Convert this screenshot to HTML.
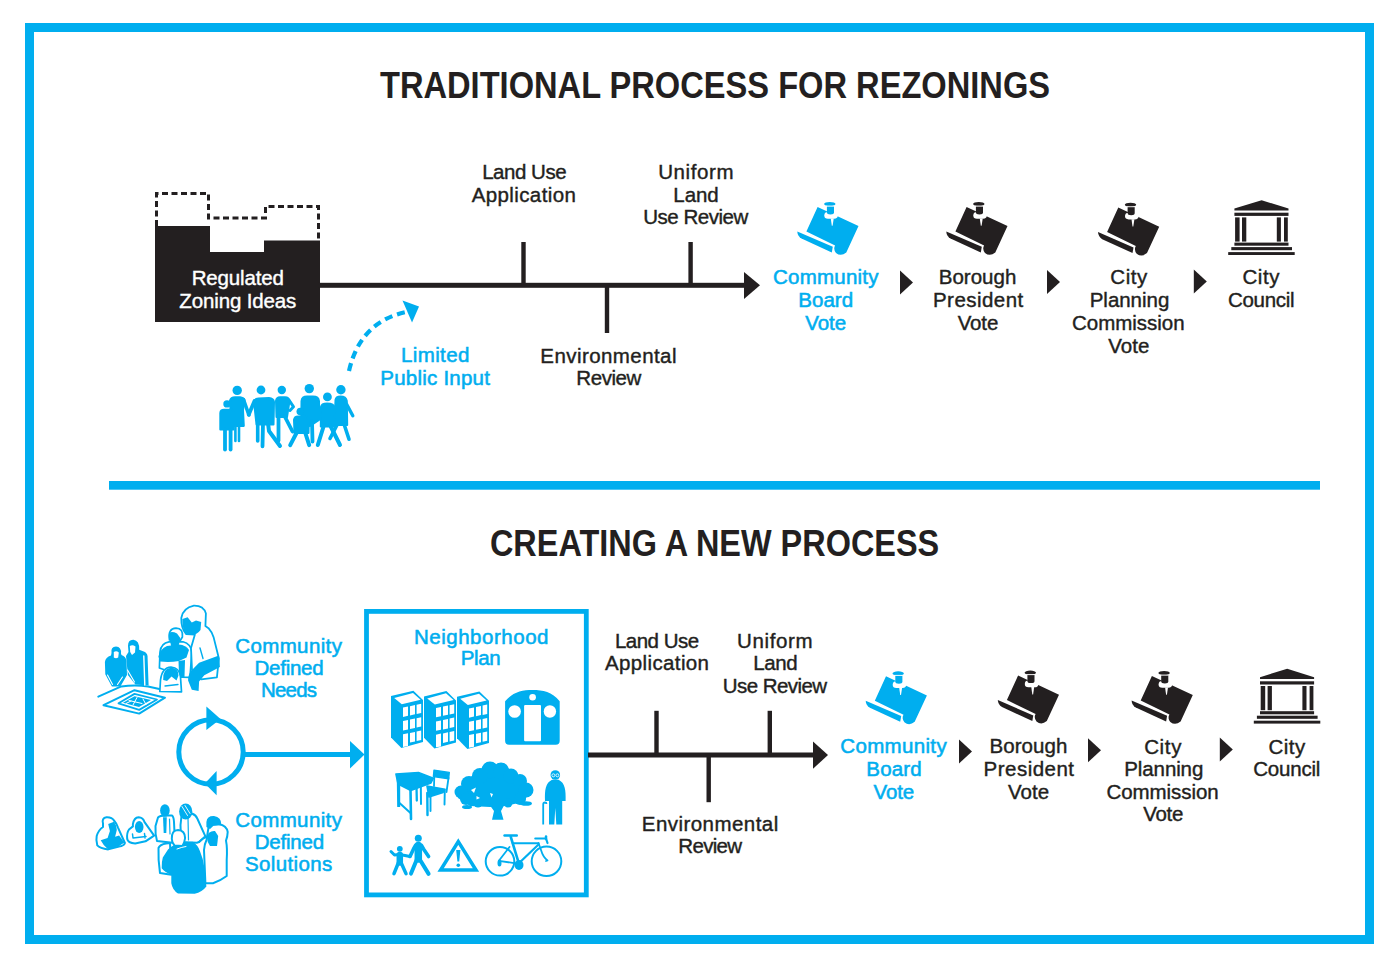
<!DOCTYPE html>
<html><head><meta charset="utf-8">
<style>
html,body{margin:0;padding:0;background:#fff;}
body{width:1400px;height:958px;overflow:hidden;position:relative;}
svg{position:absolute;left:0;top:0;}
text{font-family:"Liberation Sans",sans-serif;}
.t{font-size:20.5px;fill:#231f20;stroke:#231f20;stroke-width:0.4px;text-anchor:middle;}
.t.b{fill:#00aeef;stroke:#00aeef;stroke-width:0.55px;}
.t.w{fill:#fff;stroke:#fff;}
.h{font-size:37px;font-weight:bold;fill:#231f20;text-anchor:middle;}
</style></head>
<body>
<svg width="1400" height="958" viewBox="0 0 1400 958">


<!-- outer border -->
<rect x="29.5" y="27.5" width="1340" height="912" fill="none" stroke="#00aeef" stroke-width="9"/>
<rect x="109" y="481" width="1211" height="8.7" fill="#00aeef"/>

<text class="h" x="715" y="97.6" transform="translate(715 0) scale(0.882 1) translate(-715 0)">TRADITIONAL PROCESS FOR REZONINGS</text>

<path d="M155,226 H210 V252 H264 V240.5 H320 V322 H155 Z" fill="#231f20"/>
<path d="M156.5,226 V193.5 H208.5 V218 H265.5 V206.5 H318.5 V240" fill="none" stroke="#231f20" stroke-width="3" stroke-dasharray="6,3.5"/>

<g fill="#231f20">
<rect x="318" y="282.8" width="428" height="5"/>
<path d="M744,272 L760,285.3 L744,299 Z"/>
<rect x="521.3" y="242" width="4.4" height="43"/>
<rect x="688.4" y="242" width="4.4" height="43"/>
<rect x="604.8" y="285" width="4.4" height="48"/>
</g>

<g transform="translate(791 195)" fill="#00aeef">
    <path d="M26.6,11.9 L67.5,31.1 L55.3,57.4 Q50,62 45,58 Q42,54 44.1,50.4 L15.4,36.4 Z"/>
    <path d="M6.3,36.4 L41.8,51.8 L40.8,57.4 L10.5,43.5 Q6.5,41 6.3,36.4 Z"/>
    <path d="M33.3,20.4 Q33.3,17 37,17 L43.5,17 Q46.9,17.3 46.9,20.3 Q46.9,23.7 43,23.7 L37,23.7 Q33.3,23.7 33.3,20.4 Z" fill="#fff"/>
    <path d="M35.9,11.3 H43 V17.3 Q43,19.5 39.5,19.5 Q35.9,19.5 35.9,17.3 Z"/>
    <ellipse cx="38.8" cy="9.1" rx="5.7" ry="2.1"/>
    <rect x="34.6" y="10.6" width="8.6" height="0.9" fill="#fff"/>
    <path d="M39.8,23.5 L42.7,23.5 L41.6,30.8 L40.8,30.8 Z" fill="#fff"/>
  </g>
<g transform="translate(940 195)" fill="#231f20">
    <path d="M26.6,11.9 L67.5,31.1 L55.3,57.4 Q50,62 45,58 Q42,54 44.1,50.4 L15.4,36.4 Z"/>
    <path d="M6.3,36.4 L41.8,51.8 L40.8,57.4 L10.5,43.5 Q6.5,41 6.3,36.4 Z"/>
    <path d="M33.3,20.4 Q33.3,17 37,17 L43.5,17 Q46.9,17.3 46.9,20.3 Q46.9,23.7 43,23.7 L37,23.7 Q33.3,23.7 33.3,20.4 Z" fill="#fff"/>
    <path d="M35.9,11.3 H43 V17.3 Q43,19.5 39.5,19.5 Q35.9,19.5 35.9,17.3 Z"/>
    <ellipse cx="38.8" cy="9.1" rx="5.7" ry="2.1"/>
    <rect x="34.6" y="10.6" width="8.6" height="0.9" fill="#fff"/>
    <path d="M39.8,23.5 L42.7,23.5 L41.6,30.8 L40.8,30.8 Z" fill="#fff"/>
  </g>
<g transform="translate(1091.7 195.7)" fill="#231f20">
    <path d="M26.6,11.9 L67.5,31.1 L55.3,57.4 Q50,62 45,58 Q42,54 44.1,50.4 L15.4,36.4 Z"/>
    <path d="M6.3,36.4 L41.8,51.8 L40.8,57.4 L10.5,43.5 Q6.5,41 6.3,36.4 Z"/>
    <path d="M33.3,20.4 Q33.3,17 37,17 L43.5,17 Q46.9,17.3 46.9,20.3 Q46.9,23.7 43,23.7 L37,23.7 Q33.3,23.7 33.3,20.4 Z" fill="#fff"/>
    <path d="M35.9,11.3 H43 V17.3 Q43,19.5 39.5,19.5 Q35.9,19.5 35.9,17.3 Z"/>
    <ellipse cx="38.8" cy="9.1" rx="5.7" ry="2.1"/>
    <rect x="34.6" y="10.6" width="8.6" height="0.9" fill="#fff"/>
    <path d="M39.8,23.5 L42.7,23.5 L41.6,30.8 L40.8,30.8 Z" fill="#fff"/>
  </g>
<g transform="translate(1222 194)" fill="#231f20">
    <path d="M12.4,16.5 L12.4,14.6 L39.6,6.2 L66.5,14.6 L66.5,16.5 Z"/>
    <rect x="12.4" y="18.7" width="54.1" height="3.2"/>
    <rect x="13.1" y="23.4" width="4.5" height="24.2"/>
    <rect x="20" y="23.4" width="4.3" height="24.2"/>
    <rect x="54.8" y="23.4" width="4.1" height="24.2"/>
    <rect x="62" y="23.4" width="3.8" height="24.2"/>
    <rect x="12.4" y="48.6" width="54.1" height="3.1"/>
    <rect x="9.3" y="53.1" width="60.7" height="3.1"/>
    <rect x="6.2" y="58.1" width="66.5" height="2.9"/>
  </g>
<g fill="#231f20">
<g transform="translate(900 270.6)"><path d="M0,0 L13,12 L0,24 Z"/></g>
<g transform="translate(1047 270)"><path d="M0,0 L13,12 L0,24 Z"/></g>
<g transform="translate(1193.8 269.4)"><path d="M0,0 L13,12 L0,24 Z"/></g>
</g>

<g id="people" fill="#00aeef"></g>
<path d="M349,371 Q360,322 406,312" fill="none" stroke="#00aeef" stroke-width="4.2" stroke-dasharray="8,5"/>
<path d="M402.5,300.5 L419,306.5 L412,322.5 Z" fill="#00aeef"/>

<text class="h" x="714.6" y="556.2" transform="translate(714.6 0) scale(0.877 1) translate(-714.6 0)">CREATING A NEW PROCESS</text>

<circle cx="211" cy="752" r="32.2" fill="none" stroke="#00aeef" stroke-width="5"/>
<path d="M206.4,706.5 L220.5,719 L206.4,730 Z" fill="#00aeef"/>
<path d="M216.6,771 L204.8,783.5 L216.6,795.3 Z" fill="#00aeef"/>
<rect x="243" y="752" width="108" height="5" fill="#00aeef"/>
<path d="M350,741 L364.5,754.5 L350,768.6 Z" fill="#00aeef"/>

<rect x="366.5" y="611.4" width="219.8" height="283.5" fill="none" stroke="#00aeef" stroke-width="4.8"/>

<g fill="#231f20">
<rect x="588" y="752.5" width="226" height="5"/>
<path d="M813,741.4 L828,755 L813,768.8 Z"/>
<rect x="654.3" y="710.8" width="4.4" height="44"/>
<rect x="767.6" y="710.8" width="4.4" height="44"/>
<rect x="706.5" y="755" width="4.4" height="47.2"/>
</g>

<g transform="translate(859.4 664.3)" fill="#00aeef">
    <path d="M26.6,11.9 L67.5,31.1 L55.3,57.4 Q50,62 45,58 Q42,54 44.1,50.4 L15.4,36.4 Z"/>
    <path d="M6.3,36.4 L41.8,51.8 L40.8,57.4 L10.5,43.5 Q6.5,41 6.3,36.4 Z"/>
    <path d="M33.3,20.4 Q33.3,17 37,17 L43.5,17 Q46.9,17.3 46.9,20.3 Q46.9,23.7 43,23.7 L37,23.7 Q33.3,23.7 33.3,20.4 Z" fill="#fff"/>
    <path d="M35.9,11.3 H43 V17.3 Q43,19.5 39.5,19.5 Q35.9,19.5 35.9,17.3 Z"/>
    <ellipse cx="38.8" cy="9.1" rx="5.7" ry="2.1"/>
    <rect x="34.6" y="10.6" width="8.6" height="0.9" fill="#fff"/>
    <path d="M39.8,23.5 L42.7,23.5 L41.6,30.8 L40.8,30.8 Z" fill="#fff"/>
  </g>
<g transform="translate(991.5 663.6)" fill="#231f20">
    <path d="M26.6,11.9 L67.5,31.1 L55.3,57.4 Q50,62 45,58 Q42,54 44.1,50.4 L15.4,36.4 Z"/>
    <path d="M6.3,36.4 L41.8,51.8 L40.8,57.4 L10.5,43.5 Q6.5,41 6.3,36.4 Z"/>
    <path d="M33.3,20.4 Q33.3,17 37,17 L43.5,17 Q46.9,17.3 46.9,20.3 Q46.9,23.7 43,23.7 L37,23.7 Q33.3,23.7 33.3,20.4 Z" fill="#fff"/>
    <path d="M35.9,11.3 H43 V17.3 Q43,19.5 39.5,19.5 Q35.9,19.5 35.9,17.3 Z"/>
    <ellipse cx="38.8" cy="9.1" rx="5.7" ry="2.1"/>
    <rect x="34.6" y="10.6" width="8.6" height="0.9" fill="#fff"/>
    <path d="M39.8,23.5 L42.7,23.5 L41.6,30.8 L40.8,30.8 Z" fill="#fff"/>
  </g>
<g transform="translate(1125.3 664)" fill="#231f20">
    <path d="M26.6,11.9 L67.5,31.1 L55.3,57.4 Q50,62 45,58 Q42,54 44.1,50.4 L15.4,36.4 Z"/>
    <path d="M6.3,36.4 L41.8,51.8 L40.8,57.4 L10.5,43.5 Q6.5,41 6.3,36.4 Z"/>
    <path d="M33.3,20.4 Q33.3,17 37,17 L43.5,17 Q46.9,17.3 46.9,20.3 Q46.9,23.7 43,23.7 L37,23.7 Q33.3,23.7 33.3,20.4 Z" fill="#fff"/>
    <path d="M35.9,11.3 H43 V17.3 Q43,19.5 39.5,19.5 Q35.9,19.5 35.9,17.3 Z"/>
    <ellipse cx="38.8" cy="9.1" rx="5.7" ry="2.1"/>
    <rect x="34.6" y="10.6" width="8.6" height="0.9" fill="#fff"/>
    <path d="M39.8,23.5 L42.7,23.5 L41.6,30.8 L40.8,30.8 Z" fill="#fff"/>
  </g>
<g transform="translate(1247.6 662.6)" fill="#231f20">
    <path d="M12.4,16.5 L12.4,14.6 L39.6,6.2 L66.5,14.6 L66.5,16.5 Z"/>
    <rect x="12.4" y="18.7" width="54.1" height="3.2"/>
    <rect x="13.1" y="23.4" width="4.5" height="24.2"/>
    <rect x="20" y="23.4" width="4.3" height="24.2"/>
    <rect x="54.8" y="23.4" width="4.1" height="24.2"/>
    <rect x="62" y="23.4" width="3.8" height="24.2"/>
    <rect x="12.4" y="48.6" width="54.1" height="3.1"/>
    <rect x="9.3" y="53.1" width="60.7" height="3.1"/>
    <rect x="6.2" y="58.1" width="66.5" height="2.9"/>
  </g>
<g fill="#231f20">
<g transform="translate(959 739.5)"><path d="M0,0 L13,12 L0,24 Z"/></g>
<g transform="translate(1088 738.3)"><path d="M0,0 L13,12 L0,24 Z"/></g>
<g transform="translate(1219.8 737.5)"><path d="M0,0 L13,12 L0,24 Z"/></g>
</g>

<g fill="#00aeef">
<g transform="translate(388 686)">
  <path d="M3,10 L25.4,4.7 L35,14 L35,56.1 L13.4,62.1 L3,51.4 Z"/>
  <g fill="#fff">
  <path d="M6.2,12 L25,6.9 L32.6,13.7 L13.8,18.2 Z"/>
  <path d="M15,21.6 L20,20.6 L20,29.8 L15,30.9 Z"/>
  <path d="M22,20.2 L27,19.1 L27,28.3 L22,29.4 Z"/>
  <path d="M28.6,18.8 L33.2,17.8 L33.2,27.1 L28.6,28.1 Z"/>
  <path d="M15,35 L20,34 L20,43.4 L15,44.4 Z"/>
  <path d="M22,33.6 L27,32.5 L27,42 L22,43 Z"/>
  <path d="M28.6,32.2 L33.2,31.2 L33.2,40.6 L28.6,41.6 Z"/>
  <path d="M15,48.3 L20,47.2 L20,60 L15,60.9 Z"/>
  <path d="M22,47 L27,45.9 L27,55.4 L22,56.5 Z"/>
  <path d="M28.6,45.6 L33.2,44.6 L33.2,54 L28.6,55 Z"/>
  </g>
</g>
<g transform="translate(421 686.4)">
  <path d="M3,10 L25.4,4.7 L35,14 L35,56.1 L13.4,62.1 L3,51.4 Z"/>
  <g fill="#fff">
  <path d="M6.2,12 L25,6.9 L32.6,13.7 L13.8,18.2 Z"/>
  <path d="M15,21.6 L20,20.6 L20,29.8 L15,30.9 Z"/>
  <path d="M22,20.2 L27,19.1 L27,28.3 L22,29.4 Z"/>
  <path d="M28.6,18.8 L33.2,17.8 L33.2,27.1 L28.6,28.1 Z"/>
  <path d="M15,35 L20,34 L20,43.4 L15,44.4 Z"/>
  <path d="M22,33.6 L27,32.5 L27,42 L22,43 Z"/>
  <path d="M28.6,32.2 L33.2,31.2 L33.2,40.6 L28.6,41.6 Z"/>
  <path d="M15,48.3 L20,47.2 L20,60 L15,60.9 Z"/>
  <path d="M22,47 L27,45.9 L27,55.4 L22,56.5 Z"/>
  <path d="M28.6,45.6 L33.2,44.6 L33.2,54 L28.6,55 Z"/>
  </g>
</g>
<g transform="translate(454 686.8)">
  <path d="M3,10 L25.4,4.7 L35,14 L35,56.1 L13.4,62.1 L3,51.4 Z"/>
  <g fill="#fff">
  <path d="M6.2,12 L25,6.9 L32.6,13.7 L13.8,18.2 Z"/>
  <path d="M15,21.6 L20,20.6 L20,29.8 L15,30.9 Z"/>
  <path d="M22,20.2 L27,19.1 L27,28.3 L22,29.4 Z"/>
  <path d="M28.6,18.8 L33.2,17.8 L33.2,27.1 L28.6,28.1 Z"/>
  <path d="M15,35 L20,34 L20,43.4 L15,44.4 Z"/>
  <path d="M22,33.6 L27,32.5 L27,42 L22,43 Z"/>
  <path d="M28.6,32.2 L33.2,31.2 L33.2,40.6 L28.6,41.6 Z"/>
  <path d="M15,48.3 L20,47.2 L20,60 L15,60.9 Z"/>
  <path d="M22,47 L27,45.9 L27,55.4 L22,56.5 Z"/>
  <path d="M28.6,45.6 L33.2,44.6 L33.2,54 L28.6,55 Z"/>
  </g>
</g>
<!-- train -->
<path d="M505.1,744.7 V701.3 C513,692 522,690.1 532.5,690.1 C543,690.1 552,692 559.7,701.3 V740.7 Q559.7,744.7 555.7,744.7 H509.1 Q505.1,744.7 505.1,740.7 Z"/>
</g>
<g fill="#fff">
<circle cx="532.6" cy="697.2" r="3.3"/>
<circle cx="514.6" cy="711.5" r="6.3"/>
<circle cx="549.9" cy="711.5" r="6.2"/>
<rect x="524.1" y="705" width="16.9" height="36.3" rx="1"/>
</g>
<!-- desk & chair -->
<g fill="#00aeef" stroke="#00aeef" stroke-linecap="round" stroke-linejoin="round">
<path d="M395.9,774 L418.5,772.4 L433.4,778.2 L431,783 L410.8,790.5 L398,784 Z" stroke-width="1.5"/>
<path d="M397.3,775 L399.6,775 L399.6,806.5 L397.8,806.5 Z" stroke-width="1.2"/>
<path d="M410.5,790 L411,819" stroke-width="2.6" fill="none"/>
<path d="M399.5,803 L410.5,813" stroke-width="2" fill="none"/>
<path d="M416.5,786 L416.8,800.5" stroke-width="2.3" fill="none"/>
<path d="M420.8,783.5 L421,804" stroke-width="2" fill="none"/>
<path d="M434,770.1 L449.3,772.4 L448.6,778.8 L433.4,776.6 Z" stroke-width="1.4"/>
<path d="M427,786 L445,789.2 L443.1,792.4 L429,797 Z" stroke-width="1.6"/>
<path d="M434.3,776 L434,786" stroke-width="1.8" fill="none"/>
<path d="M448.5,778 L446.5,792" stroke-width="1.8" fill="none"/>
<path d="M427.3,793 L427.5,815" stroke-width="2.4" fill="none"/>
<path d="M430.5,797 L430.5,811" stroke-width="1.9" fill="none"/>
<path d="M444.8,790 L444.5,804.5" stroke-width="1.9" fill="none"/>
</g>
<!-- tree -->
<g fill="#00aeef">
<path d="M462,786 L478,770 L492,764 L508,768 L522,778 L530,790 L524,802 L505,806 L490,807 L470,806 L458,798 Z"/>
<circle cx="490" cy="770" r="8.5"/>
<circle cx="501" cy="770.5" r="8"/>
<circle cx="480" cy="776" r="8"/>
<circle cx="511" cy="776" r="7.5"/>
<circle cx="520" cy="781" r="7"/>
<circle cx="526" cy="790" r="7.5"/>
<circle cx="469" cy="784" r="8"/>
<circle cx="461" cy="792" r="6.5"/>
<circle cx="466" cy="799" r="6"/>
<circle cx="520" cy="799" r="6"/>
<circle cx="478" cy="803" r="4.5"/>
<circle cx="508" cy="803" r="4.5"/>
<ellipse cx="526" cy="803.5" rx="6" ry="2.3"/>
<ellipse cx="467" cy="807" rx="5" ry="2"/>
<path d="M486,800 L507,800 L501,811 L503.5,819.7 L492,819.7 L494,811 Z"/>
</g>
<g fill="#fff">
<path d="M471,790 L476,787.5 L474,793 Z"/>
<path d="M490,793 L493,794 L491.5,797.5 Z"/>
<path d="M476.5,796 L480,798 L476.5,799.5 Z"/>
</g>
<!-- old man -->
<g fill="#00aeef">
<circle cx="555.3" cy="775" r="4.8"/>
<path d="M545,801 C544.5,790 545.5,783 552,779.8 L558.6,779.8 C565,783 566,790 565.6,801 L562.2,801 L562.2,824.6 L556.3,824.6 L555.3,808 L554.3,824.6 L549,824.6 L549,801 Z"/>
<path d="M543.2,824.6 V804.5 Q543.2,802.5 545,802.5 Q546.5,802.5 546.5,804" fill="none" stroke="#00aeef" stroke-width="1.8"/>
</g>
<g fill="none" stroke="#fff" stroke-width="0.8"><circle cx="553.4" cy="775.3" r="1.5"/><circle cx="557.4" cy="775.3" r="1.5"/></g>
<!-- pedestrians -->
<g fill="none" stroke="#00aeef" stroke-linecap="round" stroke-linejoin="round">
<circle cx="418.3" cy="838.3" r="3.5" fill="#00aeef" stroke="none"/>
<path d="M415.5,845.5 L413.5,849 L410,856.5" stroke-width="3.6"/>
<path d="M421.5,845.5 L423.5,849 L428.6,856.5" stroke-width="3.6"/>
<path d="M418.3,845.5 L418.3,859" stroke-width="7.5"/>
<path d="M417,859 L411,873.6" stroke-width="4"/>
<path d="M419.5,859 L428.6,873.9" stroke-width="4"/>
<circle cx="399.8" cy="848.8" r="2.9" fill="#00aeef" stroke="none"/>
<path d="M391,851.5 L394.5,855 L399,854.5 L405,855.5 L410,856.5" stroke-width="3"/>
<path d="M399.8,855 L399.8,862.5" stroke-width="6.5"/>
<path d="M398.5,862.5 L394,873.6" stroke-width="3.5"/>
<path d="M401,862.5 L406,873.6" stroke-width="3.5"/>
</g>
<!-- warning -->
<path d="M458.3,841.6 L476,870 L440.6,870 Z" fill="none" stroke="#00aeef" stroke-width="3.5" stroke-linejoin="miter"/>
<path d="M456.2,850 L460.4,850 L459.2,861.5 L457.4,861.5 Z" fill="#00aeef"/>
<circle cx="458.3" cy="865.3" r="1.8" fill="#00aeef"/>
<!-- bicycle -->
<g fill="none" stroke="#00aeef" stroke-linecap="round" stroke-linejoin="round">
<circle cx="500" cy="861.3" r="14.3" stroke-width="2"/>
<circle cx="546.5" cy="861.3" r="14.8" stroke-width="2"/>
<path d="M504.5,835.5 L516.8,835.5" stroke-width="2.4"/>
<path d="M510.8,837 L519,863.9" stroke-width="2.6"/>
<path d="M512.7,843.2 L538.5,843.2" stroke-width="2"/>
<path d="M538.5,844.5 L520.2,862" stroke-width="2.2"/>
<path d="M498.9,860.8 L519,863.9" stroke-width="1.8"/>
<path d="M498.9,860.8 L509.5,847" stroke-width="1.8"/>
<path d="M538.5,843 L541,850 Q543,857 547.5,860.5 L546,861" stroke-width="1.8"/>
<path d="M535.3,838.5 L546,838.5 L547.5,843" stroke-width="2.2"/>
<path d="M546,836.5 L546,839" stroke-width="2.5"/>
</g>
<g fill="#00aeef">
<ellipse cx="519" cy="865" rx="4.5" ry="5"/>
<ellipse cx="499.5" cy="863" rx="2" ry="3.5"/>
</g>
<g fill="#00aeef" stroke="#00aeef" stroke-linecap="round" stroke-linejoin="round">
<!-- G right -->
<circle cx="340.9" cy="389.8" r="4.7" stroke="none"/>
<path d="M335.5,400 Q336,396.5 340.5,396.5 Q346,396.5 346.8,401 L347.2,425 L334.5,425 Z" stroke-width="2"/>
<path d="M346.5,404 L352.8,415.8" stroke-width="3.4" fill="none"/>
<path d="M337.5,424 L330,438.5" stroke-width="3.6" fill="none"/>
<path d="M344,424 L349,439.2" stroke-width="3.6" fill="none"/>
<!-- F -->
<circle cx="327.4" cy="396.9" r="4.4" stroke="none"/>
<path d="M321,407 Q321.5,403.5 327,403.5 Q334,403.5 334.8,408 L335,426.6 L320.8,426.6 Z" stroke-width="2"/>
<path d="M324,425 L317.8,445" stroke-width="4" fill="none"/>
<path d="M330,425 L340,445" stroke-width="4" fill="none"/>
<!-- D tall -->
<circle cx="309.3" cy="388.6" r="4.7" stroke="none"/>
<path d="M301.5,401 Q302,396.5 307,396.5 L313,396.5 Q318.5,396.5 319,401 L319,420 L310,426 L301.3,422 Z" stroke-width="2"/>
<path d="M312,421 L312.5,441.5" stroke-width="3.8" fill="none"/>
<!-- E kid front -->
<circle cx="300.3" cy="411.6" r="3.8" stroke="none"/>
<path d="M294,420 Q294.5,416.5 298,416.5 L305,416.5 Q308.5,417 308.8,421 L308.5,433 L294.5,433 Z" stroke-width="2"/>
<path d="M297,432 L290.2,445.2" stroke-width="4" fill="none"/>
<path d="M305,432 L309.2,445.2" stroke-width="4" fill="none"/>
<!-- C -->
<circle cx="281.8" cy="390" r="4.2" stroke="none"/>
<path d="M276,401 Q276.5,397.3 280,397.3 L285,397.3 Q289,397.5 289.5,401 L287,417 L276.5,417 Z" stroke-width="2"/>
<path d="M289,400 L293.5,406.8 L290,410.5" stroke-width="3" fill="none"/>
<path d="M278.5,416 L278.5,440.5" stroke-width="3.8" fill="none"/>
<path d="M284.5,416 L292.5,431.5" stroke-width="3.8" fill="none"/>
<!-- B man -->
<circle cx="261" cy="390" r="4.4" stroke="none"/>
<path d="M254,402 Q254.5,398.8 258.5,398.5 L269,398 Q273.5,398.3 274,402 L273.5,424.4 L256.5,424.4 Z" stroke-width="2"/>
<path d="M254.5,401 L248.8,414.5" stroke-width="3.8" fill="none"/>
<path d="M257.7,423 L257.7,441" stroke-width="3.6" fill="none"/>
<path d="M263,423 L262.5,446.3" stroke-width="3.8" fill="none"/>
<path d="M268,423 L269,431 L280,446" stroke-width="4" fill="none"/>
<!-- A woman -->
<circle cx="237.2" cy="390.4" r="4.7" stroke="none"/>
<path d="M230,400.5 Q231,397.5 235,397.3 L240,397.3 Q243.8,397.8 244.5,400 L243,410 L243.8,425.9 L229.5,425.9 L230.5,410 Z" stroke-width="2"/>
<path d="M243.5,399.5 L248.9,415" stroke-width="3.6" fill="none"/>
<path d="M235.4,425 L235.4,441" stroke-width="2.6" fill="none"/>
<path d="M239,425 L239,441" stroke-width="2.6" fill="none"/>
<!-- kid left -->
<circle cx="227" cy="403.9" r="3.7" stroke="none"/>
<path d="M220.3,413 Q220.5,409.8 224,409.8 L231,409.8 Q233.5,410 233.5,413 L233.5,429.5 L220.3,429.5 Z" stroke-width="2"/>
<path d="M225,429 L225,449.5" stroke-width="3.8" fill="none"/>
<path d="M230.6,429 L230.6,449.5" stroke-width="3.8" fill="none"/>
</g>
<g id="sketch1" stroke-linejoin="round" stroke-linecap="round">
<!-- table & map -->
<g fill="none" stroke="#00aeef" stroke-width="2">
<path d="M98.3,696.7 L121.3,686.4 Q135,684.5 148,686.4 L165,690.2"/>
<path d="M103.5,705.2 L134.5,690.2 L165,697.7 L139.2,713.6 Z"/>
<path d="M118.5,703.3 L134.5,693.9 L157,699.5 L139.2,709.9 Z" stroke-width="1.8"/>
</g>
<path fill="#00aeef" d="M123,702.8 L134.5,696.2 L151,700 L139,707 Z"/>
<path d="M129,700.5 L142,703.5 M137,697.5 L133,705 M143,699 L146,704.5 M126,703.5 L131,701" stroke="#fff" stroke-width="1" fill="none"/>
<!-- person 1 -->
<path fill="#00aeef" d="M111.5,653 Q110.5,646.5 116,646.5 Q121.5,646.8 121,653.5 L121.5,655 Q126,656.5 126.5,661 L127,675.1 L120.4,686.4 L111.9,686.4 L105.3,674.2 L104.9,662 Q105.5,657 111,655.4 Z"/>
<path d="M113.8,652 Q116.5,650.5 118.8,652.5 L118.2,657.5 Q116,659 113.8,657.5 Z" fill="#fff"/>
<path d="M107.5,675 L112.5,684.5 M122.5,677 L117.5,684.5" stroke="#fff" stroke-width="1.1" fill="none"/>
<!-- person 2 -->
<path fill="#00aeef" d="M128,646 Q128,639.5 133.5,639.8 Q139.5,640.5 139.2,649.7 L145,652 Q148,654 147.6,658 L148.6,685.5 L135.4,684.5 L127.9,675.1 L126,656 L128.5,652 Z"/>
<path d="M129.8,646 Q132.5,644.5 135.5,646.5 L135,652.5 L132,655 L130.2,652 Z" fill="#fff"/>
<path d="M143.8,656 L144.8,685" stroke="#fff" stroke-width="1.4" fill="none"/>
<path d="M127.5,670 L134.5,682" stroke="#fff" stroke-width="1.1" fill="none"/>
<!-- person 3 arms crossed -->
<path fill="#fff" stroke="#00aeef" stroke-width="1.7" d="M159.4,668 L160,652 Q161,643 169,641.8 L183,641.8 Q191,644 191.8,652 L190,677.3 L175,677 L165,670 Z"/>
<path fill="#00aeef" d="M158.4,656.4 Q160,649 167,646 L179,644.5 Q186,645 189,650 L186.5,657.5 L179,661 Q170,662.5 160,661.5 Z"/>
<path fill="#fff" stroke="#00aeef" stroke-width="1.7" d="M169.5,640 Q167.5,628.5 176,628.2 Q183.5,628.5 182.4,637 L180,641 Z"/>
<path fill="#00aeef" d="M169.8,632.4 Q173,631.5 177,633.5 L180.3,638 L178,649.1 L172,650 L169.8,640 Z"/>
<path fill="#00aeef" d="M178.5,661 L185,660 L184.5,677 L179,677 Z"/>
<!-- child bottom -->
<path fill="#fff" stroke="#00aeef" stroke-width="1.7" d="M159.8,691.5 L160.5,680 Q162,667.5 171,667 Q179.5,667.5 180.5,677 L181.5,691.9 Z"/>
<path fill="#00aeef" d="M163.2,680 Q162.5,668.5 171,667.8 Q178.5,668 178.5,675.5 L176.5,680.5 L171.5,676.5 L167,681 Z"/>
<path d="M165,686 L178,684.5" stroke="#00aeef" stroke-width="1.3" fill="none"/>
<!-- big man -->
<path fill="#fff" stroke="#00aeef" stroke-width="1.8" d="M181.3,618 Q183,608 193.9,605.7 Q203.5,605.5 205.9,613.5 L205.4,626.1 L208.5,628.2 Q212,632 213.7,637.6 L218.9,658.5 L216.9,677.3 L201.2,679.4 L192,670 L191,648 L194.9,634.5 L186,634 Q181,628 181.3,618 Z"/>
<path fill="#00aeef" d="M182.4,619 L187.6,617.2 L191.8,622.5 L196,620.4 L201.2,622 L200.5,630 Q197,635 191,635 L185.5,633.5 Q182,628 182.4,619 Z"/>
<path fill="#00aeef" d="M199.1,662.7 L218.9,655.4 L219.9,667 L204.3,675.2 L199.1,681.5 L198.6,690.9 L191.8,689.8 L188.1,680.4 Q188,675 191,671 Z"/>
<path d="M200,648 L203,658.5" stroke="#00aeef" stroke-width="1.4" fill="none"/>
</g>
<g id="sketch2" stroke-linejoin="round" stroke-linecap="round">
<!-- L1 -->
<path fill="#fff" stroke="#00aeef" stroke-width="2" d="M103,823.5 Q101.5,818 106.5,817.2 Q112,817 114,820.5 Q117,824 118,827.6 L124.9,843 Q124,846 119,846.5 L108.2,849.4 Q100,848.5 97.3,845.4 Q95.8,840 96.7,836 Q98.5,830 103,827 Z"/>
<path fill="#00aeef" d="M108.2,824.1 L114,821.8 Q117,826 116.8,829.9 L115.1,836.8 L119.1,835.6 L124.3,842.5 L119.1,845.9 L108.2,849.4 Q103,845 100.7,840.2 L107.6,837.9 L109.9,831 Z"/>
<!-- L2 -->
<path fill="#fff" stroke="#00aeef" stroke-width="2" d="M132.9,824.1 Q134,817.5 138.6,817.2 Q143,817.5 144.4,821.8 L154.1,835.6 L145.5,841.3 L135.2,843.6 Q128,843 127.2,839 Q126.5,833 129,829.5 L132.9,826.4 Z"/>
<ellipse cx="139.2" cy="827" rx="4.3" ry="6" fill="#00aeef"/>
<path d="M132.5,834 L133,838 L146,836.5 M144.5,833.5 L145,838" stroke="#00aeef" stroke-width="1.5" fill="none"/>
<!-- standing left-center -->
<path fill="#fff" stroke="#00aeef" stroke-width="2" d="M158,817.5 Q160,815.5 165,815.5 L172,815.5 Q173.8,817 174,822 L174.5,833 L172.4,842.7 L157,841 Q155,834 155.5,826 Z"/>
<ellipse cx="164.9" cy="810.5" rx="4.8" ry="6.3" fill="#00aeef"/>
<path d="M163,817.2 L166.8,817.2 L166.3,833.1 L163.7,833.1 Z" fill="#00aeef"/>
<path d="M169.5,819 L170,834" stroke="#00aeef" stroke-width="1.2" fill="none"/>
<!-- striped -->
<path fill="#fff" stroke="#00aeef" stroke-width="2" d="M181.5,816 Q185,813.5 192,813.5 Q196,815 197.5,819 L205.4,836.3 L199,842 L196.9,842.7 L181,842 L180.5,825 Z"/>
<ellipse cx="185.7" cy="811.5" rx="6.6" ry="8" fill="#00aeef"/>
<path d="M182,806.5 L187.5,815.5 M185,805.5 L190,813.5" stroke="#fff" stroke-width="0.9" fill="none"/>
<path d="M188,818 L188.5,840" stroke="#00aeef" stroke-width="1.2" fill="none"/>
<!-- right person -->
<path fill="#fff" stroke="#00aeef" stroke-width="2" d="M208.6,827 Q211,824 219,824.3 Q226.5,825.5 227.7,832 Q227.5,837 226,840.6 Q227.5,848 226.7,860 L226.7,876 Q220,881 213,883.2 L205.4,883.2 L204,850 Q204.5,844 206.5,840 Z"/>
<path fill="#00aeef" d="M206.4,822 Q207,815.8 214,816.1 Q221.4,817 221.4,825 L213.5,825.7 L210,829 L206.4,827 Z"/>
<path fill="#00aeef" d="M208.6,833 Q212,830.5 215,831 L218.2,836 L217,845.9 L210,845.9 Q207,842 207,838 Z"/>
<path d="M199,842 Q203,838 206.5,837" stroke="#00aeef" stroke-width="1.8" fill="none"/>
<!-- left behind -->
<path fill="#fff" stroke="#00aeef" stroke-width="2" d="M158.5,848 Q160,844.5 166,843.5 L170,843 L171.3,874.7 L160,873 Q158,860 158.5,848 Z"/>
<!-- big dark -->
<path fill="#00aeef" d="M168,849.5 Q174,843.5 181.9,842.7 L192.6,841.7 Q198,845 200,851.2 Q203,858 204.3,867.2 L206.4,886.4 Q202,892 194.7,893.8 L178,893.5 Q172.5,890 171.3,883.2 L171.3,874.7 Q165,872.5 161.7,868.3 Q161.5,862 162.8,857.6 Z"/>
<path fill="#fff" stroke="#00aeef" stroke-width="2" d="M171.8,839 Q171.5,830 178,830 Q185,830.5 185.1,838 Q184.5,843 182.5,845.9 L174.5,845.5 Q172,843 171.8,839 Z"/>
<path d="M177,849 Q182,847 186,846.5" stroke="#fff" stroke-width="1" fill="none"/>
</g>

<text class="t " x="524.4" y="179.1" textLength="84.4" lengthAdjust="spacing">Land Use</text>
<text class="t " x="523.8" y="201.9" textLength="104.1" lengthAdjust="spacing">Application</text>
<text class="t " x="695.9" y="179.1" textLength="75.4" lengthAdjust="spacing">Uniform</text>
<text class="t " x="696.0" y="201.9" textLength="45.3" lengthAdjust="spacing">Land</text>
<text class="t " x="695.8" y="223.70000000000002" textLength="105.1" lengthAdjust="spacing">Use Review</text>
<text class="t " x="608.4" y="362.59999999999997" textLength="136.2" lengthAdjust="spacing">Environmental</text>
<text class="t " x="608.8" y="384.7" textLength="64.9" lengthAdjust="spacing">Review</text>
<text class="t b" x="825.8" y="284.4" textLength="105.5" lengthAdjust="spacing">Community</text>
<text class="t b" x="825.7" y="307.0">Board</text>
<text class="t b" x="825.7" y="329.7">Vote</text>
<text class="t " x="977.5" y="284.4" textLength="77.6" lengthAdjust="spacing">Borough</text>
<text class="t " x="978.1" y="307.4" textLength="90.3" lengthAdjust="spacing">President</text>
<text class="t " x="978.0" y="329.79999999999995" textLength="40.6" lengthAdjust="spacing">Vote</text>
<text class="t " x="1128.8" y="284.4" textLength="37.0" lengthAdjust="spacing">City</text>
<text class="t " x="1129.5" y="307.4" textLength="79.6" lengthAdjust="spacing">Planning</text>
<text class="t " x="1128.3" y="329.79999999999995" textLength="112.5" lengthAdjust="spacing">Commission</text>
<text class="t " x="1128.8" y="352.79999999999995">Vote</text>
<text class="t " x="1261.0" y="284.4" textLength="37.0" lengthAdjust="spacing">City</text>
<text class="t " x="1261.3" y="307.4" textLength="66.6" lengthAdjust="spacing">Council</text>
<text class="t w" x="237.8" y="284.79999999999995" textLength="92.2" lengthAdjust="spacing">Regulated</text>
<text class="t w" x="237.8" y="308.4" textLength="116.9" lengthAdjust="spacing">Zoning Ideas</text>
<text class="t b" x="435.2" y="362.2" textLength="68.2" lengthAdjust="spacing">Limited</text>
<text class="t b" x="435.1" y="384.7" textLength="109.7" lengthAdjust="spacing">Public Input</text>
<text class="t b" x="288.6" y="653.1" textLength="106.7" lengthAdjust="spacing">Community</text>
<text class="t b" x="289.1" y="675.3" textLength="69.1" lengthAdjust="spacing">Defined</text>
<text class="t b" x="289.0" y="697.4" textLength="55.9" lengthAdjust="spacing">Needs</text>
<text class="t b" x="288.6" y="826.6999999999999" textLength="106.7" lengthAdjust="spacing">Community</text>
<text class="t b" x="289.4" y="848.6" textLength="69.5" lengthAdjust="spacing">Defined</text>
<text class="t b" x="288.6" y="871.4" textLength="87.3" lengthAdjust="spacing">Solutions</text>
<text class="t b" x="481.2" y="643.9" textLength="134.6" lengthAdjust="spacing">Neighborhood</text>
<text class="t b" x="480.7" y="664.6" textLength="40.0" lengthAdjust="spacing">Plan</text>
<text class="t " x="657.0" y="647.8" textLength="84.2" lengthAdjust="spacing">Land Use</text>
<text class="t " x="657.0" y="670.0" textLength="104.0" lengthAdjust="spacing">Application</text>
<text class="t " x="774.8" y="647.8" textLength="75.5" lengthAdjust="spacing">Uniform</text>
<text class="t " x="775.5" y="670.0" textLength="44.4" lengthAdjust="spacing">Land</text>
<text class="t " x="774.9" y="692.6999999999999" textLength="104.3" lengthAdjust="spacing">Use Review</text>
<text class="t " x="710.0" y="831.3" textLength="136.4" lengthAdjust="spacing">Environmental</text>
<text class="t " x="710.2" y="853.1999999999999" textLength="63.7" lengthAdjust="spacing">Review</text>
<text class="t b" x="893.5" y="752.9" textLength="106.3" lengthAdjust="spacing">Community</text>
<text class="t b" x="894.0" y="776.4" textLength="55.4" lengthAdjust="spacing">Board</text>
<text class="t b" x="893.8" y="798.8" textLength="40.7" lengthAdjust="spacing">Vote</text>
<text class="t " x="1028.4" y="753.3" textLength="77.9" lengthAdjust="spacing">Borough</text>
<text class="t " x="1028.8" y="775.6999999999999" textLength="90.5" lengthAdjust="spacing">President</text>
<text class="t " x="1028.6" y="798.6">Vote</text>
<text class="t " x="1162.8" y="753.5" textLength="37.3" lengthAdjust="spacing">City</text>
<text class="t " x="1163.8" y="776.3" textLength="79.0" lengthAdjust="spacing">Planning</text>
<text class="t " x="1162.6" y="798.6999999999999" textLength="112.2" lengthAdjust="spacing">Commission</text>
<text class="t " x="1163.3" y="821.0" textLength="40.2" lengthAdjust="spacing">Vote</text>
<text class="t " x="1286.9" y="753.5" textLength="36.9" lengthAdjust="spacing">City</text>
<text class="t " x="1286.8" y="775.6999999999999" textLength="67.1" lengthAdjust="spacing">Council</text>
</svg>
</body></html>
